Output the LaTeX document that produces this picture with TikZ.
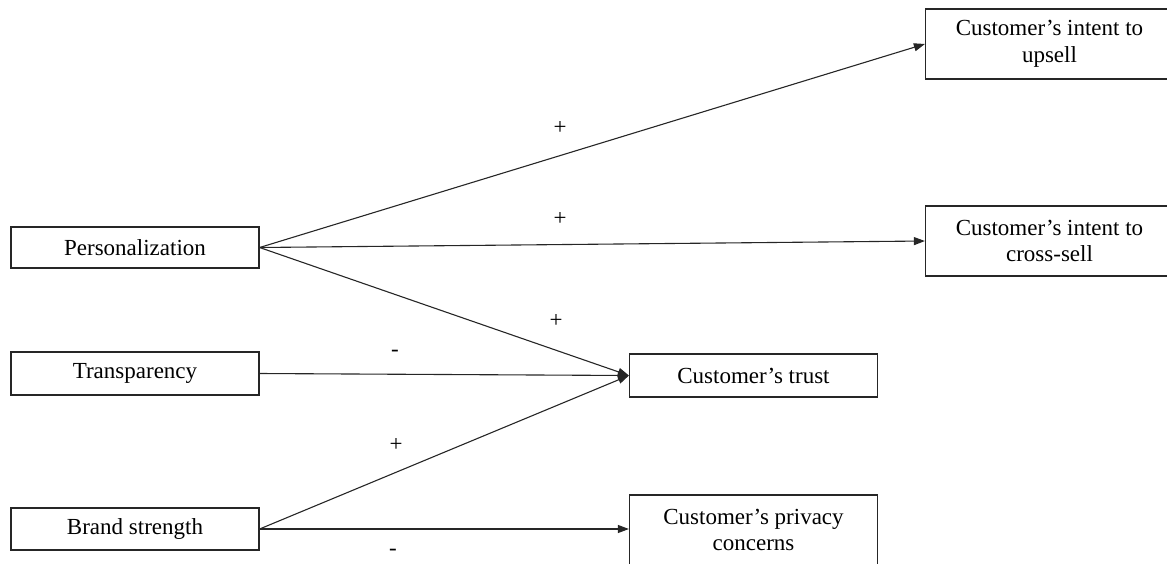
\documentclass[tikz,border=0pt]{standalone}
\usepackage{fontspec}
\setmainfont{Liberation Serif}
\usetikzlibrary{arrows.meta}
\begin{document}
\begin{tikzpicture}[x=1pt,y=-1pt,
  every node/.style={font=\fontsize{23}{26.5}\selectfont},
  box/.style={draw=black!85,line width=1.2pt,minimum width=248pt,inner sep=0pt,align=center,fill=white},
  sign/.style={inner sep=0pt},
  link/.style={draw=black!85,line width=1.1pt,-{Triangle[length=11pt,width=8pt]}}]
\useasboundingbox (0,0) rectangle (1167,563);
% constructs
\node[box,minimum height=41pt] (pers)  at (135,247.5) {Personalization};
\node[box,minimum height=43pt] (trans) at (135,373.5) {Transparency};
\node[box,minimum height=42pt] (brand) at (135,529)   {Brand strength};
\node[box,minimum height=43pt] (trust) at (753.5,375.5) {Customer’s trust};
\node[box,minimum height=70pt] (priv)  at (753.5,530) {Customer’s privacy\\concerns};
\node[box,minimum height=70pt] (up)    at (1049.5,44) {Customer’s intent to\\upsell};
\node[box,minimum height=70pt] (cross) at (1049.5,241) {Customer’s intent to\\cross-sell};
% paths
\draw[link] (pers.east) -- (up.west);
\draw[link] (pers.east) -- (cross.west);
\draw[link] (pers.east) -- (trust.west);
\draw[link] (trans.east) -- (trust.west);
\draw[link] (brand.east) -- (trust.west);
\draw[link] (brand.east) -- (brand.east -| priv.west);
% signs of the effects
\node[sign] (s1) at (560,128) {+};
\node[sign] (s2) at (560,219) {+};
\node[sign] (s3) at (556,321) {+};
\node[sign] (s4) at (395,353) {-};
\node[sign] (s5) at (396,445) {+};
\node[sign] (s6) at (393,552) {-};
\end{tikzpicture}
\end{document}
